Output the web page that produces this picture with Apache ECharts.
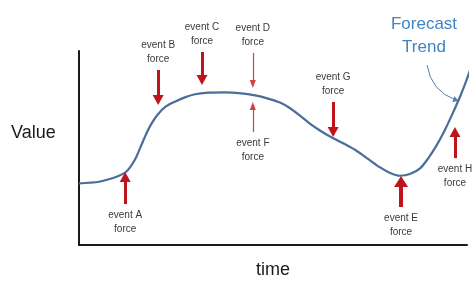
<!DOCTYPE html>
<html>
<head>
    <meta charset="utf-8">
    <title>Forecast Trend</title>
    <script src="https://cdn.jsdelivr.net/npm/echarts@6/dist/echarts.min.js"></script>
    <style>
        html, body { margin: 0; padding: 0; background: #fff; }
        #main { width: 476px; height: 282px; }
    </style>
</head>
<body>
<div id="main"></div>
<script type="text/javascript">
    // trend curve (time 0..100, value 0..100)
    var curveTime  = [0, 2.6, 5.2, 7.7, 10.3, 12.0, 13.3, 14.6, 15.9, 17.2, 18.5, 20.2, 22.3, 24.7, 27.3, 29.9, 33.3, 37.6, 41.9, 45.4, 48.5,
                      51.8, 54.4, 57.0, 59.5, 62.1, 64.7, 68.6, 71.5, 74.5, 77.6, 80.2, 82.7, 85.3, 87.9, 90.0, 92.2, 94.3, 96.5, 98.2, 99.9, 102.3];
    var curveValue = [31.8, 32.1, 32.6, 33.9, 35.7, 37.5, 40.4, 44.7, 50.7, 56.7, 61.9, 67.0, 71.3, 73.9, 76.1, 77.7, 78.5, 78.7, 78.2, 77.1, 75.6,
                      73.4, 70.5, 66.6, 62.6, 59.0, 55.9, 51.9, 48.6, 44.4, 40.0, 37.1, 35.7, 36.6, 39.5, 44.7, 51.5, 59.3, 68.7, 76.4, 85.1, 99.0];

    // event forces: arrow from tail -> head centre (value), at a time
    var eventNames = ['A', 'B', 'C', 'D', 'F', 'G', 'E', 'H'];
    var eventTime  = [11.9, 20.4, 31.7, 44.8, 44.8, 65.5, 83.0, 96.9];
    var eventFrom  = [21.1, 90.2, 99.5, 99.0, 58.2, 73.7, 19.6, 44.8];
    var eventTo    = [35.1, 74.7, 85.1, 83.0, 71.6, 58.2, 32.7, 58.2];

    // small pointer from the "Forecast Trend" note to the curve
    var noteFrom = [89.7, 92.8];
    var noteTo   = [97.2, 74.7];

    var thinEvents = ['D', 'F'];

    var arrows = eventNames.map(function (name, i) {
        var thin = thinEvents.indexOf(name) >= 0;
        var big = name === 'E';
        return [
            {
                coord: [eventTime[i], eventFrom[i]],
                symbol: 'none',
                lineStyle: {
                    color: thin ? '#d2403f' : '#c0141c',
                    width: thin ? 1.2 : (big ? 4 : 3),
                    type: 'solid'
                },
                label: {
                    show: true,
                    position: 'start',
                    distance: 4,
                    formatter: 'event ' + name + '\nforce',
                    color: '#3a3a3a',
                    fontSize: 10,
                    lineHeight: 14,
                    fontFamily: 'Liberation Sans'
                }
            },
            {
                coord: [eventTime[i], eventTo[i]],
                symbol: 'triangle',
                symbolSize: thin ? [6, 8] : (big ? [14, 11] : [11, 10])
            }
        ];
    });

    var chart = echarts.init(document.getElementById('main'));
    chart.setOption({
        animation: false,
        grid: { left: 79, right: 9, top: 51, bottom: 37, outerBoundsMode: 'none', containLabel: false },
        xAxis: {
            type: 'value',
            min: 0,
            max: 100,
            name: 'time',
            nameLocation: 'middle',
            nameGap: 16,
            nameTextStyle: { fontSize: 18, color: '#1a1a1a', fontFamily: 'Liberation Sans' },
            axisLine: { show: true, lineStyle: { color: '#1a1a1a', width: 2 } },
            axisTick: { show: false },
            axisLabel: { show: false },
            splitLine: { show: false }
        },
        yAxis: {
            type: 'value',
            min: 0,
            max: 100,
            axisLine: { show: true, lineStyle: { color: '#1a1a1a', width: 2 } },
            axisTick: { show: false },
            axisLabel: { show: false },
            splitLine: { show: false }
        },
        graphic: [
            {
                type: 'text',
                left: 11,
                top: 124,
                style: { text: 'Value', fontSize: 18, fill: '#1a1a1a', fontFamily: 'Liberation Sans' }
            },
            {
                type: 'text',
                x: 424,
                y: 13,
                style: {
                    text: 'Forecast\nTrend',
                    align: 'center',
                    fontSize: 17,
                    lineHeight: 23,
                    fill: '#3d85c6',
                    fontFamily: 'Liberation Sans'
                }
            }
        ],
        series: [
            {
                type: 'line',
                data: curveTime.map(function (t, i) { return [t, curveValue[i]]; }),
                smooth: 0.3,
                showSymbol: false,
                clip: false,
                silent: true,
                lineStyle: { color: '#4a6d9a', width: 2.2 },
                markLine: {
                    silent: true,
                    animation: false,
                    data: arrows
                }
            },
            {
                // curved note pointer
                type: 'lines',
                coordinateSystem: 'cartesian2d',
                silent: true,
                symbol: ['none', 'triangle'],
                symbolSize: 6,
                lineStyle: { color: '#5b7ca6', width: 1, opacity: 1, curveness: -0.3 },
                data: [{ coords: [noteFrom, noteTo] }]
            }
        ]
    });
</script>
</body>
</html>
